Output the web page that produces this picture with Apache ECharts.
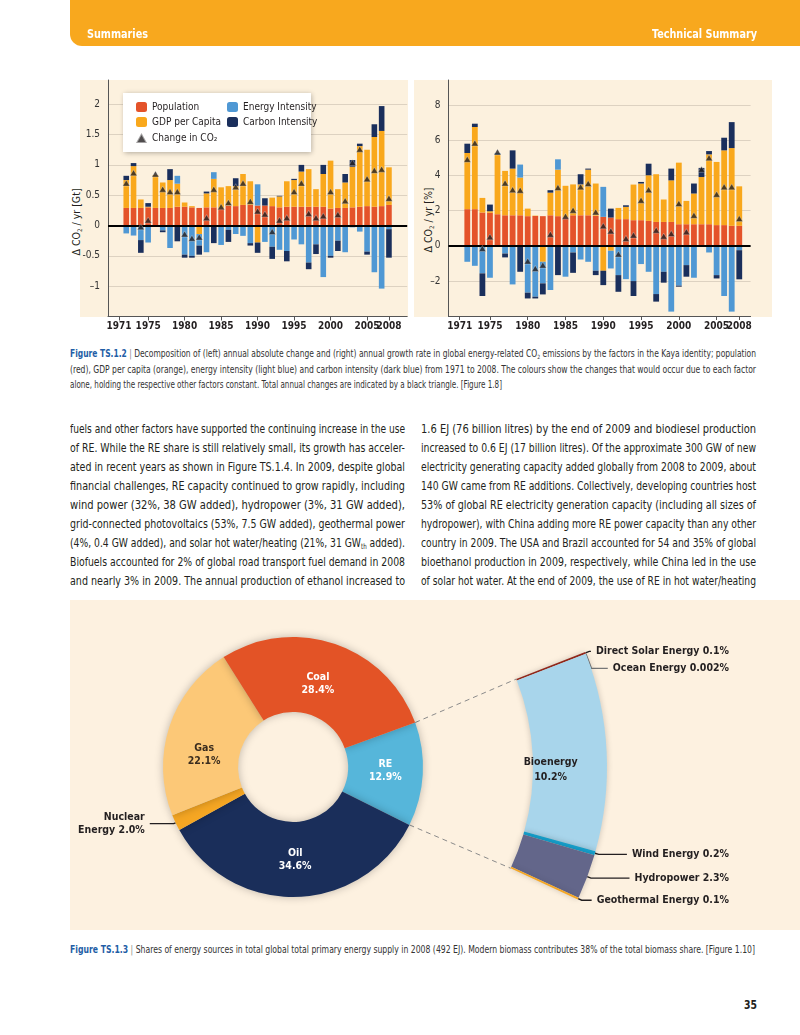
<!DOCTYPE html>
<html><head><meta charset="utf-8">
<script src="https://cdn.jsdelivr.net/npm/echarts@6/dist/echarts.min.js"></script>
<style>
body{margin:0;width:800px;height:1035px;position:relative;background:#fff;overflow:hidden;font-family:'Liberation Sans Narrow','DejaVu Sans Condensed','Open Sans',sans-serif;color:#231f20}
.abs{position:absolute}
.ln{position:absolute;white-space:nowrap;transform-origin:0 50%}
sub{font-size:0.6em;vertical-align:-0.3em;line-height:0}
.rot{position:absolute;white-space:nowrap;transform:translate(-50%,-50%) rotate(-90deg);font-size:10.5px}
</style></head><body>
<div class="abs" style="left:70px;top:0;width:730px;height:46px;background:#f8a81e;border-bottom-left-radius:12px"></div>
<div class="abs" style="left:80px;top:80px;width:328px;height:237px;background:#fcf1de"></div>
<div class="abs" style="left:414px;top:80px;width:358px;height:237px;background:#fcf1de"></div>
<div class="rot" style="left:76px;top:222px">Δ CO<sub>2</sub> / yr [Gt]</div>
<div class="rot" style="left:428px;top:220px">Δ CO<sub>2</sub> / yr [%]</div>
<div id="c1" class="abs" style="left:0;top:0;width:800px;height:345px"></div>
<div id="c2" class="abs" style="left:70px;top:600px;width:730px;height:330px;background:#fdf1e0"></div>
<script>
// ---------- data ----------
const axisYears = [1970,1971,1972,1973,1974,1975,1976,1977,1978,1979,1980,1981,1982,1983,1984,1985,1986,1987,1988,1989,1990,1991,1992,1993,1994,1995,1996,1997,1998,1999,2000,2001,2002,2003,2004,2005,2006,2007,2008,2009,2010];
const years = [1972,1973,1974,1975,1976,1977,1978,1979,1980,1981,1982,1983,1984,1985,1986,1987,1988,1989,1990,1991,1992,1993,1994,1995,1996,1997,1998,1999,2000,2001,2002,2003,2004,2005,2006,2007,2008];
const tickYears = [1971,1975,1980,1985,1990,1995,2000,2005];
const lastTickYear = 2008;

// absolute change, Gt CO2 / yr
const absPopulation = [0.29,0.29,0.29,0.30,0.29,0.29,0.29,0.31,0.31,0.30,0.29,0.30,0.30,0.28,0.33,0.32,0.34,0.34,0.33,0.33,0.32,0.30,0.31,0.31,0.31,0.31,0.31,0.31,0.28,0.29,0.29,0.30,0.31,0.32,0.31,0.32,0.34];
const absGdp = [0.46,0.69,0.14,0.01,0.54,0.42,0.46,0.38,0.07,0.02,-0.14,0.23,0.47,0.35,0.32,0.33,0.51,0.39,-0.28,0.00,0.14,0.18,0.42,0.44,0.58,0.62,0.29,0.54,0.79,0.31,0.42,0.67,1.00,0.93,1.15,1.24,0.62];
const absEnergyInt = [-0.13,-0.165,-0.24,-0.28,0.00,-0.08,-0.37,0.13,-0.48,-0.50,-0.19,-0.44,0.11,-0.32,-0.07,-0.14,-0.17,-0.29,0.35,-0.27,-0.35,-0.40,-0.42,-0.23,-0.31,-0.61,-0.31,-0.85,-0.50,-0.25,-0.44,-0.03,-0.10,-0.43,-0.77,-1.04,-0.06];
const absCarbonInt = [0.07,0.05,-0.21,0.06,0.00,-0.03,0.18,-0.26,-0.05,-0.03,-0.15,0.03,-0.29,0.00,-0.20,0.13,0.00,-0.04,-0.17,0.12,-0.20,0.01,-0.17,0.02,0.11,-0.11,-0.16,0.15,-0.03,-0.17,0.14,0.11,0.04,-0.05,0.21,0.41,-0.47];
const absTotal = [0.70,0.87,-0.02,0.09,0.85,0.60,0.56,0.56,-0.14,-0.21,-0.19,0.13,0.60,0.31,0.38,0.64,0.70,0.40,0.24,0.19,-0.10,0.09,0.13,0.56,0.70,0.20,0.13,0.16,0.56,0.18,0.41,1.04,1.26,0.77,0.91,0.93,0.45];

// growth rate, % / yr
const pctPopulation = [2.09,2.09,1.90,1.88,1.80,1.74,1.74,1.74,1.69,1.70,1.69,1.74,1.69,1.62,1.74,1.74,1.74,1.71,1.65,1.61,1.52,1.52,1.46,1.46,1.42,1.36,1.36,1.36,1.23,1.23,1.23,1.23,1.23,1.18,1.18,1.14,1.14];
const pctGdp = [3.20,4.68,0.83,0.09,3.40,2.53,2.66,2.15,0.43,0.02,-0.91,1.29,2.65,1.80,1.76,1.76,2.60,1.84,-1.42,-0.28,0.64,0.70,2.03,2.09,2.60,2.72,1.28,2.37,3.51,1.33,1.75,2.69,3.98,3.60,4.26,4.43,2.25];
const pctEnergyInt = [-0.91,-1.14,-1.57,-1.82,0.08,-0.44,-2.20,0.74,-2.67,-2.90,-1.23,-2.52,0.59,-1.76,-0.38,-0.78,-0.91,-1.42,1.71,-1.01,-1.67,-1.90,-2.01,-1.04,-1.48,-2.75,-1.48,-3.75,-2.27,-1.10,-1.82,-0.06,-0.38,-1.67,-2.86,-3.75,-0.25];
const pctCarbonInt = [0.53,0.19,-1.29,0.38,0.00,-0.22,1.04,-1.48,-0.33,-0.10,-0.63,0.14,-1.67,0.00,-1.16,0.58,0.06,-0.25,-0.82,0.51,-0.95,0.09,-0.85,0.09,0.66,-0.43,-0.62,0.67,-0.06,-0.66,0.57,0.52,0.19,-0.19,0.72,1.48,-1.66];
const pctTotal = [4.93,5.86,-0.15,0.51,5.35,3.58,3.20,3.17,-0.87,-1.29,-1.10,0.66,3.32,1.69,2.03,3.36,3.55,1.93,1.14,0.85,-0.47,0.42,0.61,2.60,3.20,0.89,0.55,0.70,2.41,0.80,1.74,4.36,5.02,2.94,3.36,3.36,1.55];

// primary energy shares 2008, %
const energyNames = ['RE','Oil','Nuclear Energy','Gas','Coal'];
const energyShares = [12.9,34.6,2.0,22.1,28.4];
const reNames = ['Direct Solar Energy','Ocean Energy','Bioenergy','Wind Energy','Hydropower','Geothermal Energy'];
const reShares = [0.1,0.002,10.2,0.2,2.3,0.1];

const seriesNames = ['Population','GDP per Capita','Energy Intensity','Carbon Intensity','Change in CO₂'];

// ---------- styles ----------
const FONT = "'Liberation Sans Narrow','DejaVu Sans Condensed','Open Sans',sans-serif";
const C = {pop:'#e4532a', gdp:'#f9a81c', ei:'#4f98d4', ci:'#1a2f5c', tri:'#231f20'};
const energyColors = ['#56b6da','#1a2e5a','#f5a623','#fcc877','#e35326'];
const energyLabelColors = ['#fff','#fff','#231f20','#3b2d1e','#fff'];
const energyLabelOffsets = [[-3,-2],[0,-3],[0,0],[2,17],[-6,7]];
const reColors = ['#9b2b1e','#6b6f8e','#a8d5eb','#16a2cf','#63668a','#f5a623'];

function pairs(ys){ return years.map((x,i)=>[String(x), ys[i]]); }
function bars(name, color, ys, idx, bw){
  return {type:'bar', name, xAxisIndex:idx, yAxisIndex:idx, stack:'s'+idx, barWidth:bw,
    data:pairs(ys), itemStyle:{color}, emphasis:{disabled:true}, z:2};
}
function tri(ys, idx){
  return {type:'scatter', name:seriesNames[4], xAxisIndex:idx, yAxisIndex:idx, data:pairs(ys),
    symbol:'triangle', symbolSize:[7,6], itemStyle:{color:C.tri, borderColor:'rgba(255,255,255,0.6)', borderWidth:0.6}, z:5, emphasis:{disabled:true},
    markLine:{silent:true, symbol:'none', label:{show:false}, lineStyle:{color:'#000', width:2, type:'solid'}, data:[{yAxis:0}]}};
}
function yfmt(v){ if (v<0) return (Number.isInteger(v)?'\u2013':'-')+Math.abs(v); return String(v); }
const showYear = (i, v) => tickYears.indexOf(+v) >= 0;
const showLast = (i, v) => +v === lastTickYear;
const xLabelStyle = {fontSize:10, fontWeight:'bold', color:'#231f20', fontFamily:FONT, margin:5, hideOverlap:false};
function xAxis(idx, cats){
  return {gridIndex:idx, type:'category', position:'bottom', data:cats.map(String), boundaryGap:true,
    axisLine:{show:true, onZero:false, lineStyle:{color:'#555', width:1}},
    axisTick:{show:true, interval:showYear, alignWithLabel:true, length:4, lineStyle:{color:'#555'}},
    axisLabel:Object.assign({interval:showYear}, xLabelStyle),
    splitLine:{show:false}};
}
// second, line-less axis on the same grid that carries only the final year label
function xAxisLast(idx, cats){
  return {gridIndex:idx, type:'category', position:'bottom', offset:0, data:cats.map(String), boundaryGap:true,
    axisLine:{show:false, onZero:false},
    axisTick:{show:true, interval:showLast, alignWithLabel:true, length:4, lineStyle:{color:'#555'}},
    axisLabel:Object.assign({interval:showLast}, xLabelStyle),
    splitLine:{show:false}};
}
function yAxis(idx, min, max, interval){
  return {gridIndex:idx, type:'value', min, max, interval,
    axisLine:{show:true, onZero:false, lineStyle:{color:'#555', width:1}},
    axisTick:{show:false},
    axisLabel:{showMinLabel:false, showMaxLabel:false, formatter:yfmt, fontSize:10, color:'#333', fontFamily:FONT, margin:8},
    splitLine:{show:true, showMinLine:false, showMaxLine:false, lineStyle:{color:'#ddd2c1', width:1}}};
}

const chart1 = echarts.init(document.getElementById('c1'));
chart1.setOption({
  animation:false,
  textStyle:{fontFamily:FONT},
  grid:[{left:108, top:80, width:299.2, height:236.5},{left:448.4, top:80, width:302.2, height:236}],
  xAxis:[xAxis(0, axisYears), xAxis(1, axisYears.slice(0, 40)), xAxisLast(0, axisYears), xAxisLast(1, axisYears.slice(0, 40))],
  yAxis:[yAxis(0, -1.5, 2.4, 0.5), yAxis(1, -4, 9.45, 2)],
  legend:[
    {data:[seriesNames[0], seriesNames[1], {name:seriesNames[4], icon:'triangle'}], orient:'vertical', left:123, top:93,
     itemWidth:11, itemHeight:10, itemGap:5, selectedMode:false,
     padding:[9,90,8,12], backgroundColor:'#fff', shadowBlur:5, shadowColor:'rgba(0,0,0,0.3)', shadowOffsetX:1, shadowOffsetY:1,
     textStyle:{fontSize:10, color:'#231f20', fontFamily:FONT}},
    {data:[seriesNames[2], seriesNames[3]], orient:'vertical', left:227, top:102, padding:0, z:6,
     itemWidth:11, itemHeight:10, itemGap:5, selectedMode:false,
     textStyle:{fontSize:10, color:'#231f20', fontFamily:FONT}}
  ],
  series:[
    bars(seriesNames[0], C.pop, absPopulation, 0, 5.6),
    bars(seriesNames[1], C.gdp, absGdp, 0, 5.6),
    bars(seriesNames[2], C.ei, absEnergyInt, 0, 5.6),
    bars(seriesNames[3], C.ci, absCarbonInt, 0, 5.6),
    tri(absTotal, 0),
    bars(seriesNames[0], C.pop, pctPopulation, 1, 5.8),
    bars(seriesNames[1], C.gdp, pctGdp, 1, 5.8),
    bars(seriesNames[2], C.ei, pctEnergyInt, 1, 5.8),
    bars(seriesNames[3], C.ci, pctCarbonInt, 1, 5.8),
    tri(pctTotal, 1)
  ]
});

// ---------- pie ----------
const CX = 223, CY = 167, R_IN = 55, R_OUT = 130, RING_IN = 240, RING_OUT = 314;
const START = 20, RING_START = 21.5;
function pctStr(v){ return (v < 0.01 ? String(v) : v.toFixed(1)) + '%'; }
const reSum = reShares.reduce((a,b)=>a+b,0);
function polar(r, deg){ const a = deg*Math.PI/180; return [CX + r*Math.cos(a), CY - r*Math.sin(a)]; }
const reEndAngle = START - energyShares[0]*3.6;
const ringEndAngle = RING_START - reSum*3.6;
const p1 = polar(R_OUT, START), p2 = polar(RING_IN, RING_START);
const p3 = polar(R_OUT, reEndAngle), p4 = polar(RING_IN, ringEndAngle);

const donutData = energyNames.map((n,i)=>{
  const d = {name:n, value:energyShares[i], itemStyle:{color:energyColors[i]}, label:{color:energyLabelColors[i], offset:energyLabelOffsets[i]}};
  if (n === 'Nuclear Energy') {
    d.label = {position:'outside', color:'#231f20', alignTo:'none', formatter:()=> 'Nuclear\nEnergy ' + pctStr(energyShares[i])};
    d.labelLine = {show:true, length:2, length2:24, lineStyle:{color:'#231f20', width:1.4}};
  }
  return d;
});
const ringData = reNames.map((n,i)=>{
  const d = {name:n, value:reShares[i], itemStyle:{color:reColors[i]}};
  if (n === 'Bioenergy') {
    d.label = {position:'inside', align:'left', offset:[-22,16], formatter:()=> n + '\n' + pctStr(reShares[i])};
    d.labelLine = {show:false};
  }
  if (n === 'Ocean Energy') d.labelLine = {lineStyle:{color:'#777'}};
  return d;
});
ringData.push({name:'', value:100 - reSum, itemStyle:{color:'rgba(0,0,0,0)'}, label:{show:false}, labelLine:{show:false}, silent:true});

const chart2 = echarts.init(document.getElementById('c2'));
chart2.setOption({
  animation:false,
  textStyle:{fontFamily:FONT},
  graphic:[
    {type:'line', shape:{x1:p1[0], y1:p1[1], x2:p2[0], y2:p2[1]}, style:{stroke:'#8a8a8a', lineWidth:1, lineDash:[5,4]}, z:1},
    {type:'line', shape:{x1:p3[0], y1:p3[1], x2:p4[0], y2:p4[1]}, style:{stroke:'#8a8a8a', lineWidth:1, lineDash:[5,4]}, z:1}
  ],
  series:[
    {type:'pie', center:[CX,CY], radius:[R_IN,R_OUT], startAngle:START, clockwise:true, avoidLabelOverlap:false,
     emphasis:{disabled:true}, z:3,
     itemStyle:{shadowBlur:8, shadowColor:'rgba(0,0,0,0.25)'},
     label:{show:true, position:'inside', fontSize:10.5, fontWeight:'bold', lineHeight:13, fontFamily:FONT,
            formatter:p=> p.name + '\n' + pctStr(p.value)},
     data:donutData},
    {type:'pie', center:[CX,CY], radius:[RING_IN,RING_OUT], startAngle:RING_START, clockwise:true,
     emphasis:{disabled:true}, z:3,
     itemStyle:{shadowBlur:6, shadowColor:'rgba(0,0,0,0.2)'},
     label:{show:true, position:'outside', alignTo:'edge', edgeDistance:71, overflow:'none', fontSize:10.5, fontWeight:'bold', color:'#231f20', lineHeight:15, fontFamily:FONT,
            formatter:p=> p.name + ' ' + pctStr(p.value)},
     labelLine:{show:true, length:4, length2:10, lineStyle:{color:'#231f20', width:1.4}},
     data:ringData}
  ]
});

// ---------- text ----------
function place(html, x, cy, w, o){
  const el = document.createElement('div');
  el.className = 'ln';
  el.innerHTML = html;
  el.style.fontSize = o.size + 'px';
  el.style.lineHeight = o.lh + 'px';
  if (o.bold) el.style.fontWeight = 'bold';
  if (o.color) el.style.color = o.color;
  document.body.appendChild(el);
  const nat = el.getBoundingClientRect().width;
  el.style.left = (o.right ? x - Math.min(nat, w) : x) + 'px';
  el.style.top = (cy - o.lh/2) + 'px';
  if (nat > w) el.style.transform = 'scaleX(' + (w/nat) + ')';
  else if (o.justify) { const n = (el.textContent.match(/ /g)||[]).length; if (n) el.style.wordSpacing = ((w-nat)/n) + 'px'; }
}
place('Summaries', 87, 34, 61, {size:12.5, lh:14, bold:true, color:'#fff'});
place('Technical Summary', 757, 34, 105, {size:12.5, lh:14, bold:true, color:'#fff', right:true});

const FIG = '<b style="color:#1f5ea6">';
const capLines = [
  FIG + 'Figure TS.1.2</b> <span style="color:#888">|</span> Decomposition of (left) annual absolute change and (right) annual growth rate in global energy-related CO<sub>2</sub> emissions by the factors in the Kaya identity; population',
  '(red), GDP per capita (orange), energy intensity (light blue) and carbon intensity (dark blue) from 1971 to 2008. The colours show the changes that would occur due to each factor',
  'alone, holding the respective other factors constant. Total annual changes are indicated by a black triangle. [Figure 1.8]'
];
const capW = [686, 686, 432];
const capJ = [true, true, false];
capLines.forEach((t,i)=> place(t, 70, 354 + i*15.5, capW[i], {size:9.6, lh:12, justify:capJ[i], color:'#333'}));

const leftLines = [
  'fuels and other factors have supported the continuing increase in the use',
  'of RE. While the RE share is still relatively small, its growth has acceler-',
  'ated in recent years as shown in Figure TS.1.4. In 2009, despite global',
  'financial challenges, RE capacity continued to grow rapidly, including',
  'wind power (32%, 38 GW added), hydropower (3%, 31 GW added),',
  'grid-connected photovoltaics (53%, 7.5 GW added), geothermal power',
  '(4%, 0.4 GW added), and solar hot water/heating (21%, 31 GW<sub>th</sub> added).',
  'Biofuels accounted for 2% of global road transport fuel demand in 2008',
  'and nearly 3% in 2009. The annual production of ethanol increased to'
];
const rightLines = [
  '1.6 EJ (76 billion litres) by the end of 2009 and biodiesel production',
  'increased to 0.6 EJ (17 billion litres). Of the approximate 300 GW of new',
  'electricity generating capacity added globally from 2008 to 2009, about',
  '140 GW came from RE additions. Collectively, developing countries host',
  '53% of global RE electricity generation capacity (including all sizes of',
  'hydropower), with China adding more RE power capacity than any other',
  'country in 2009. The USA and Brazil accounted for 54 and 35% of global',
  'bioethanol production in 2009, respectively, while China led in the use',
  'of solar hot water. At the end of 2009, the use of RE in hot water/heating'
];
leftLines.forEach((t,i)=> place(t, 70, 428 + i*19.1, 335, {size:12.8, lh:15, justify:true}));
rightLines.forEach((t,i)=> place(t, 421, 428 + i*19.1, 335, {size:12.8, lh:15, justify:true}));

place(FIG + 'Figure TS.1.3</b> <span style="color:#888">|</span> Shares of energy sources in total global total primary energy supply in 2008 (492 EJ). Modern biomass contributes 38% of the total biomass share. [Figure 1.10]', 70, 950, 685, {size:9.6, lh:12, justify:true, color:'#333'});
place('35', 757, 1005, 13, {size:12.5, lh:14, bold:true, right:true});
</script>
</body></html>
